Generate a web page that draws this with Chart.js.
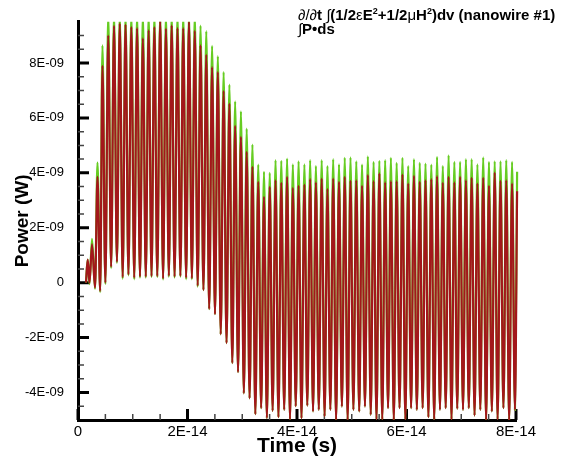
<!DOCTYPE html>
<html>
<head>
<meta charset="utf-8">
<script src="https://cdn.jsdelivr.net/npm/chart.js@4.4.1/dist/chart.umd.min.js"></script>
<style>
    html, body { margin: 0; padding: 0; background: #fff; }
    #wrap { width: 568px; height: 462px; }
</style>
</head>
<body>
<div id="wrap"><canvas id="powerChart" width="568" height="462"></canvas></div>
<script>
// Time samples in fs (1E-15 s): start, then alternating peaks / troughs
const timeFs = [
    1.46, 1.77, 2.10, 2.56, 3.11, 3.56, 4.05,
    4.47, 5.00, 5.52, 6.05, 6.58, 7.11, 7.63, 8.16, 8.68, 9.21,
    9.74, 10.27, 10.79, 11.32, 11.85, 12.38, 12.90, 13.43, 13.95, 14.48,
    15.01, 15.54, 16.06, 16.59, 17.11, 17.64, 18.17, 18.70, 19.22, 19.75,
    20.27, 20.80, 21.33, 21.86, 22.38, 22.91, 23.43, 23.96, 24.49, 25.02,
    25.54, 26.07, 26.60, 27.13, 27.65, 28.18, 28.70, 29.23, 29.76, 30.29,
    30.81, 31.34, 31.86, 32.39, 32.92, 33.45, 33.97, 34.50, 35.02, 35.55,
    36.08, 36.61, 37.13, 37.66, 38.19, 38.72, 39.24, 39.77, 40.29, 40.82,
    41.35, 41.88, 42.40, 42.93, 43.45, 43.98, 44.51, 45.04, 45.56, 46.09,
    46.61, 47.14, 47.67, 48.20, 48.72, 49.25, 49.77, 50.30, 50.83, 51.36,
    51.88, 52.41, 52.94, 53.47, 53.99, 54.52, 55.04, 55.57, 56.10, 56.63,
    57.15, 57.68, 58.20, 58.73, 59.26, 59.79, 60.31, 60.84, 61.36, 61.89,
    62.42, 62.95, 63.47, 64.00, 64.53, 65.06, 65.58, 66.11, 66.63, 67.16,
    67.69, 68.22, 68.74, 69.27, 69.79, 70.32, 70.85, 71.38, 71.90, 72.43,
    72.95, 73.48, 74.01, 74.54, 75.06, 75.59, 76.11, 76.64, 77.17, 77.70,
    78.22, 78.75, 79.28, 79.81, 80.20
];

// d/dt of field energy in nanowire #1, nW (peaks above 9.5 are cut by the axis)
const energyRate = [
    0, 0.84, -0.05, 1.60, -0.22, 4.37, -0.34,
    8.64, -0.05, 9.80, 0.53, 9.80, 0.72, 9.80, 0.14, 9.80, 0.26,
    9.80, 0.12, 9.80, 0.18, 9.80, 0.18, 9.80, 0.20, 9.80, 0.20,
    9.80, 0.11, 9.80, 0.21, 9.80, 0.18, 9.80, 0.21, 9.80, 0.12,
    9.80, 0.12, 9.80, -0.15, 9.36, -0.27, 9.16, -0.96, 8.62, -1.15,
    8.25, -1.88, 7.67, -2.20, 7.21, -2.93, 6.60, -3.26, 6.24, -4.03,
    5.61, -4.21, 5.03, -4.79, 4.30, -4.57, 4.04, -4.93, 4.00, -4.67,
    4.46, -4.90, 4.44, -4.63, 4.52, -4.98, 4.31, -4.50, 4.42, -4.94,
    4.31, -4.48, 4.46, -4.69, 4.25, -4.63, 4.46, -4.87, 4.25, -4.63,
    4.50, -5.00, 4.31, -4.51, 4.55, -5.00, 4.56, -4.63, 4.42, -4.69,
    4.30, -4.51, 4.60, -4.81, 4.40, -4.98, 4.44, -4.98, 4.46, -4.57,
    4.55, -5.00, 4.36, -4.57, 4.55, -4.98, 4.25, -4.57, 4.50, -4.63,
    4.36, -4.57, 4.34, -4.90, 4.30, -4.98, 4.58, -4.63, 4.25, -4.57,
    4.64, -4.98, 4.40, -4.59, 4.40, -4.63, 4.50, -4.57, 4.50, -4.84,
    4.31, -4.63, 4.56, -5.00, 4.40, -4.69, 4.42, -4.98, 4.42, -4.57,
    4.46, -5.02, 4.40, -4.63, 4.04
];

// surface integral of the Poynting vector, nW
const poyntingFlux = [
    0, 0.84, 0.00, 1.40, -0.18, 3.85, -0.30,
    7.90, 0.00, 9.00, 0.58, 9.35, 0.76, 9.43, 0.20, 9.40, 0.30,
    9.31, 0.18, 9.27, 0.22, 8.90, 0.22, 9.19, 0.24, 9.31, 0.24,
    9.55, 0.15, 9.25, 0.25, 9.37, 0.22, 9.27, 0.25, 9.27, 0.18,
    9.50, 0.16, 9.17, -0.11, 8.64, -0.27, 8.30, -0.96, 7.85, -1.15,
    7.67, -1.88, 6.98, -2.20, 6.52, -2.93, 5.71, -3.26, 5.31, -4.03,
    4.76, -4.21, 4.22, -4.79, 3.67, -4.57, 3.13, -4.93, 3.49, -4.67,
    3.73, -4.90, 3.64, -4.63, 3.85, -4.98, 3.45, -4.50, 3.53, -4.94,
    3.57, -4.48, 3.77, -4.69, 3.65, -4.63, 3.79, -4.87, 3.41, -4.63,
    3.79, -5.00, 3.67, -4.51, 3.85, -5.00, 3.71, -4.63, 3.73, -4.69,
    3.53, -4.51, 3.92, -4.81, 3.70, -4.98, 3.98, -4.98, 3.65, -4.57,
    3.70, -5.00, 3.70, -4.57, 3.94, -4.98, 3.61, -4.57, 3.89, -4.63,
    3.67, -4.57, 3.73, -4.90, 3.77, -4.98, 3.88, -4.63, 3.64, -4.57,
    3.85, -4.98, 3.65, -4.59, 3.85, -4.63, 3.73, -4.57, 3.82, -4.84,
    3.61, -4.63, 3.82, -5.00, 3.53, -4.69, 4.01, -4.98, 3.71, -4.57,
    3.73, -5.02, 3.61, -4.63, 3.33
];

const seriesLabels = ['∂/∂t ∫(1/2εE²+1/2μH²)dv (nanowire #1)', '∫P•ds'];

const xTicks = [0, 2e-14, 4e-14, 6e-14, 8e-14];
const xTickLabels = ['0', '2E-14', '4E-14', '6E-14', '8E-14'];
const yTicks = [-4e-9, -2e-9, 0, 2e-9, 4e-9, 6e-9, 8e-9];
const yTickLabels = ['-4E-09', '-2E-09', '0', '2E-09', '4E-09', '6E-09', '8E-09'];

const FONT = "'Liberation Sans', Arial, Helvetica, sans-serif";

function toPoints(values) {
    return timeFs.map((t, i) => ({ x: t * 1e-15, y: values[i] * 1e-9 }));
}

// Tecplot style ticks pointing into the plot, with 3 minor ticks between majors
const inwardTicks = {
    id: 'inwardTicks',
    beforeDatasetsDraw(chart) {
        const { ctx, chartArea } = chart;
        const xs = chart.scales.x;
        const ys = chart.scales.y;
        ctx.save();

        function minorsOf(ticks, min, max) {
            const step = (ticks[1] - ticks[0]) / 4;
            const out = [];
            for (let v = ticks[0] - step; v > min + step / 10; v -= step) out.push(v);
            ticks.forEach(t => {
                for (let j = 1; j < 4; j++) {
                    const v = t + j * step;
                    if (v < max - step / 10) out.push(v);
                }
            });
            return out;
        }

        // minor
        ctx.lineWidth = 1.5;
        ctx.strokeStyle = '#444';
        ctx.beginPath();
        minorsOf(xTicks, xs.min, xs.max).forEach(v => {
            const px = xs.getPixelForValue(v);
            ctx.moveTo(px, chartArea.bottom);
            ctx.lineTo(px, chartArea.bottom - 6);
        });
        minorsOf(yTicks, ys.min, ys.max).forEach(v => {
            const py = ys.getPixelForValue(v);
            ctx.moveTo(chartArea.left, py);
            ctx.lineTo(chartArea.left + 6, py);
        });
        ctx.stroke();

        // major
        ctx.lineWidth = 3;
        ctx.strokeStyle = '#000';
        ctx.beginPath();
        xTicks.forEach(v => {
            const px = xs.getPixelForValue(v);
            ctx.moveTo(px, chartArea.bottom);
            ctx.lineTo(px, chartArea.bottom - 11);
        });
        yTicks.forEach(v => {
            const py = ys.getPixelForValue(v);
            ctx.moveTo(chartArea.left, py);
            ctx.lineTo(chartArea.left + 11, py);
        });
        ctx.stroke();
        ctx.restore();
    }
};

// legend: plain text lines in the top right, symbols in a lighter face
const legendLines = [
    [['∂/∂', 'n'], ['t ', 'b'], ['∫', 'n'], ['(1/2', 'b'], ['ε', 'n'], ['E', 'b'], ['2', 's'],
     ['+1/2', 'b'], ['μ', 'n'], ['H', 'b'], ['2', 's'], [')dv (nanowire #1)', 'b']],
    [['∫', 'n'], ['P•ds', 'b']]
];

const legendText = {
    id: 'legendText',
    afterDraw(chart) {
        const ctx = chart.ctx;
        ctx.save();
        ctx.fillStyle = '#000';
        ctx.textBaseline = 'alphabetic';
        const fonts = {
            n: '15px ' + FONT,
            b: 'bold 15px ' + FONT,
            s: 'bold 9px ' + FONT
        };
        const baselines = [20, 33.5];
        legendLines.forEach((parts, i) => {
            let x = 298;
            parts.forEach(([txt, kind]) => {
                ctx.font = fonts[kind];
                const y = kind === 's' ? baselines[i] - 6 : baselines[i];
                ctx.fillText(txt, x, y);
                x += ctx.measureText(txt).width;
            });
        });
        ctx.restore();
    }
};

const clipBox = { left: 0, top: 0, right: 3, bottom: 0 };

const chart = new Chart(document.getElementById('powerChart'), {
    type: 'line',
    data: {
        datasets: [
            {
                label: seriesLabels[0],
                data: toPoints(energyRate),
                borderColor: '#66cc22',
                borderWidth: 2.2,
                pointRadius: 0,
                cubicInterpolationMode: 'monotone',
                clip: clipBox,
                order: 1
            },
            {
                label: seriesLabels[1],
                data: toPoints(poyntingFlux),
                borderColor: '#a3171b',
                borderWidth: 2.2,
                pointRadius: 0,
                cubicInterpolationMode: 'monotone',
                clip: clipBox,
                order: 0
            }
        ]
    },
    options: {
        responsive: false,
        animation: false,
        events: [],
        layout: { padding: { left: 0, right: 52, top: 19, bottom: 0 } },
        plugins: {
            legend: { display: false },
            tooltip: { enabled: false }
        },
        scales: {
            x: {
                type: 'linear',
                min: 0,
                max: 8e-14,
                grid: { display: false, drawTicks: false },
                border: { display: true, color: '#000', width: 3 },
                afterBuildTicks: scale => { scale.ticks = xTicks.map(v => ({ value: v })); },
                afterFit: scale => { scale.height = 42; },
                ticks: {
                    autoSkip: false,
                    maxRotation: 0,
                    padding: 3,
                    color: '#000',
                    font: { family: FONT, size: 15 },
                    callback: v => xTickLabels[xTicks.indexOf(v)]
                },
                title: {
                    display: true,
                    text: 'Time (s)',
                    color: '#000',
                    font: { family: FONT, size: 21, weight: 'bold' },
                    padding: { top: 0, bottom: 3 }
                }
            },
            y: {
                type: 'linear',
                min: -5e-9,
                max: 9.5e-9,
                grid: { display: false, drawTicks: false },
                border: { display: true, color: '#000', width: 3 },
                afterBuildTicks: scale => { scale.ticks = yTicks.map(v => ({ value: v })); },
                afterFit: scale => { scale.width = 78; },
                ticks: {
                    autoSkip: false,
                    padding: 14,
                    color: '#000',
                    font: { family: FONT, size: 13 },
                    callback: v => yTickLabels[yTicks.indexOf(v)]
                },
                title: {
                    display: true,
                    text: 'Power (W)',
                    color: '#000',
                    font: { family: FONT, size: 19, weight: 'bold' },
                    padding: { top: 11, bottom: 0 }
                }
            }
        }
    },
    plugins: [inwardTicks, legendText]
});
</script>
</body>
</html>
